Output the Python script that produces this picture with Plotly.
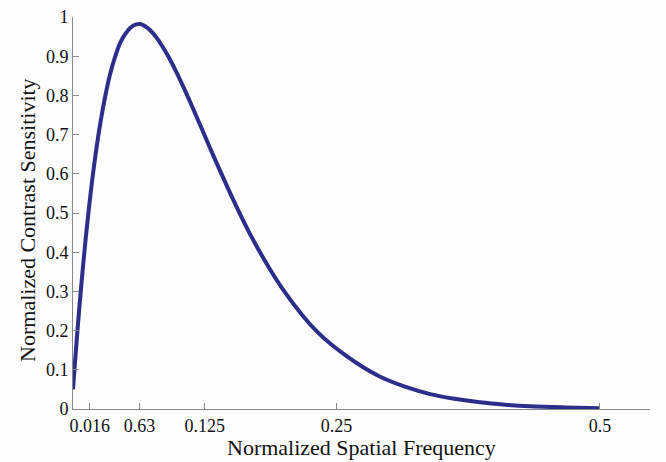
import plotly.graph_objects as go

freq = [0.000, 0.002, 0.004, 0.006, 0.009, 0.012, 0.015, 0.018, 0.021, 0.025,
        0.030, 0.035, 0.040, 0.045, 0.050, 0.055, 0.060, 0.064, 0.068, 0.073,
        0.080, 0.089, 0.098, 0.106, 0.114, 0.122, 0.130, 0.138, 0.152, 0.168,
        0.185, 0.200, 0.218, 0.232, 0.244, 0.260, 0.275, 0.291, 0.315, 0.339,
        0.362, 0.386, 0.410, 0.434, 0.467, 0.500]
sens = [0.050, 0.123, 0.192, 0.258, 0.349, 0.434, 0.510, 0.579, 0.641, 0.714,
        0.790, 0.852, 0.899, 0.935, 0.958, 0.974, 0.981, 0.982, 0.977, 0.967,
        0.945, 0.906, 0.860, 0.814, 0.766, 0.716, 0.666, 0.617, 0.534, 0.446,
        0.365, 0.302, 0.238, 0.196, 0.167, 0.134, 0.107, 0.083, 0.057, 0.038,
        0.026, 0.017, 0.011, 0.007, 0.004, 0.002]

x_tick_vals = [0.016, 0.063, 0.125, 0.25, 0.5]
x_tick_text = ["0.016", "0.63", "0.125", "0.25", "0.5"]
y_tick_vals = [0, 0.1, 0.2, 0.3, 0.4, 0.5, 0.6, 0.7, 0.8, 0.9, 1]
y_tick_text = ["0", "0.1", "0.2", "0.3", "0.4", "0.5", "0.6", "0.7", "0.8", "0.9", "1"]
x_title = "Normalized Spatial Frequency"
y_title = "Normalized Contrast Sensitivity"

fig = go.Figure()
fig.add_trace(go.Scatter(x=freq, y=sens, mode="lines",
                         line=dict(color="#2b2e8a", width=4, shape="spline", smoothing=1.0),
                         showlegend=False))

serif = "Liberation Serif, Times New Roman, serif"
fig.update_layout(
    width=666, height=462,
    margin=dict(l=73, r=16, t=17, b=53),
    paper_bgcolor="#fdfdfd", plot_bgcolor="#fdfdfd",
    font=dict(family=serif, size=18, color="#111"),
    xaxis=dict(range=[0, 0.5475], showgrid=False, zeroline=False, automargin=False,
               showline=True, linecolor="#888", linewidth=1,
               ticks="inside", ticklen=6, tickcolor="#888",
               tickvals=x_tick_vals, ticktext=x_tick_text,
               tickfont=dict(family=serif, size=18)),
    yaxis=dict(range=[0, 1], showgrid=False, zeroline=False, automargin=False,
               showline=True, linecolor="#888", linewidth=1,
               ticks="inside", ticklen=6, tickcolor="#888",
               tickvals=y_tick_vals, ticktext=y_tick_text,
               tickfont=dict(family=serif, size=18)),
    annotations=[
        dict(text=x_title, xref="paper", yref="paper", x=0.5, y=-0.097,
             xanchor="center", yanchor="middle", showarrow=False,
             font=dict(family=serif, size=22, color="#111")),
        dict(text=y_title, xref="paper", yref="paper", x=-0.08, y=0.482,
             xanchor="center", yanchor="middle", showarrow=False, textangle=-90,
             font=dict(family=serif, size=22, color="#111")),
    ],
)

fig.write_html("out.html",
               config={"displayModeBar": False},
               post_script="document.body.style.margin='0';document.body.style.background='#fdfdfd';")
